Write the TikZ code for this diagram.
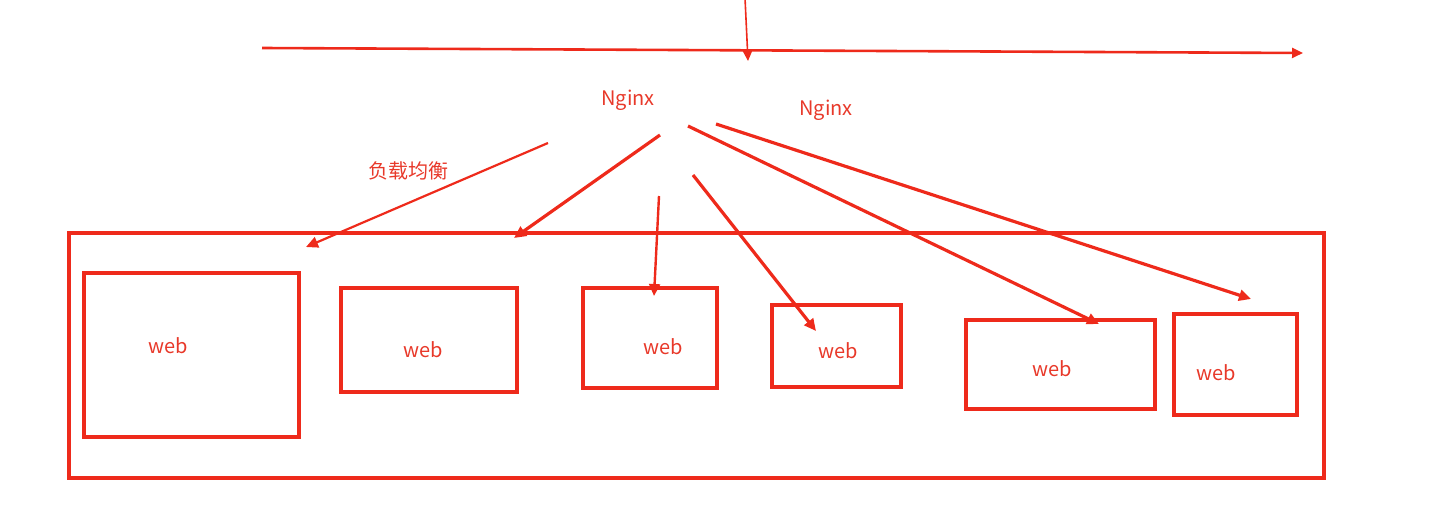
\documentclass[tikz,border=0pt]{standalone}
\usepackage{fontspec}
\setmainfont{Noto Sans CJK SC}
\usetikzlibrary{arrows.meta}
\definecolor{pen}{HTML}{EE2A1B}
\definecolor{ink}{HTML}{E8392A}
\tikzset{
  box/.style={draw=pen, line width=3.2pt, inner sep=0pt},
  lbl/.style={text=ink, font=\fontsize{20}{24}\selectfont, inner sep=0pt},
  arr/.style={draw=pen, line width=3.2pt, -{Triangle[length=12pt,width=11pt]}},
  thinarr/.style={draw=pen, line width=2pt, -{Triangle[length=11pt,width=10pt]}},
}
\begin{document}
\begin{tikzpicture}[x=1pt,y=-1pt]
\useasboundingbox (0,0) rectangle (1442,514);
% top timeline arrows
\coordinate (hs) at (262,48);
\coordinate (he) at (1303,53);
\coordinate (vs) at (745,-2);
\coordinate (ve) at (748,61);
\draw[thinarr, line width=2.6pt] (hs) -- (he);
\draw[thinarr, line width=1.6pt] (vs) -- (ve);
% labels
\node[lbl] (ng1) at (628,100) {Nginx};
\node[lbl] (ng2) at (826,110) {Nginx};
\node[lbl] (lb) at (408,171) {负载均衡};
% outer container
\node[box, minimum width=1255, minimum height=245] (outer) at (696.5,355.5) {};
% web boxes
\node[box, minimum width=215, minimum height=164] (w1) at (191.5,355) {};
\node[box, minimum width=176, minimum height=104] (w2) at (429,340) {};
\node[box, minimum width=134, minimum height=100] (w3) at (650,338) {};
\node[box, minimum width=129, minimum height=82] (w4) at (836.5,346) {};
\node[box, minimum width=189, minimum height=89] (w5) at (1060.5,364.5) {};
\node[box, minimum width=123, minimum height=101] (w6) at (1235.5,364.5) {};
\node[lbl] (t1) at (168,346) {web};
\node[lbl] (t2) at (423,350) {web};
\node[lbl] (t3) at (663,347) {web};
\node[lbl] (t4) at (838,351) {web};
\node[lbl] (t5) at (1052,369) {web};
\node[lbl] (t6) at (1216,373) {web};
% arrow start / end points
\coordinate (sa) at (548,143);
\coordinate (ea) at (306,247);
\coordinate (sb) at (660,135);
\coordinate (eb) at (514,238);
\coordinate (sc) at (659,196);
\coordinate (ec) at (654,296);
\coordinate (sd) at (693,175);
\coordinate (ed) at (816,331);
\coordinate (se) at (688,126);
\coordinate (ee) at (1099,324);
\coordinate (sf) at (716,124);
\coordinate (ef) at (1251,299);
\draw[arr, line width=2.2pt] (sa) -- (ea);
\draw[arr] (sb) -- (eb);
\draw[arr, line width=2.4pt] (sc) -- (ec);
\draw[arr] (sd) -- (ed);
\draw[arr] (se) -- (ee);
\draw[arr] (sf) -- (ef);
\end{tikzpicture}
\end{document}
